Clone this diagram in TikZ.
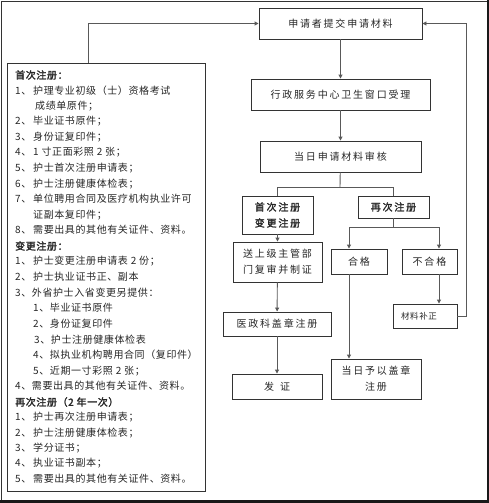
\documentclass[tikz,border=0pt]{standalone}
\usepackage{fontspec}
\usetikzlibrary{arrows.meta,calc}
\newfontfamily\cjkl[LetterSpace=6,AutoFakeBold=2]{Noto Sans CJK SC}
\newfontfamily\cjkr[LetterSpace=18,AutoFakeBold=2]{Noto Sans CJK SC}
\begin{document}
\begin{tikzpicture}[x=1pt,y=-1pt,
  box/.style={draw=black!80,line width=0.9pt,inner sep=0pt,align=center,font=\fontsize{10}{16}\cjkr,text=black!85},
  ltxt/.style={anchor=west,inner sep=0pt,font=\fontsize{10}{12}\cjkl,text=black!85},
  conn/.style={draw=black!65,line width=0.9pt},
  arr/.style={conn,-{Triangle[length=4pt,width=4pt]}}]
\useasboundingbox (0,0) rectangle (489,503);
% outer frame
\draw[black!80,line width=0.8pt] (1,1) -- (487,1);
\draw[black!80,line width=0.8pt] (1,1) -- (1,500);
\fill[black!90] (0,500) rectangle (489,503);
\fill[black!90] (487,0) rectangle (489,503);

% left box
\node[draw=black!80,line width=0.9pt,minimum width=198,minimum height=428,inner sep=0pt] (lbox) at (106,277) {};
\foreach \t/\y [count=\i] in {
 {\textbf{首次注册：}}/75,
 {1、}/91, {}/106, {2、}/121, {3、}/137, {4、}/152, {5、}/168, {6、}/184, {7、}/199, {}/215, {8、}/230,
 {\textbf{变更注册：}}/246,
 {1、}/261, {2、}/277, {3、外省护士入省变更另提供：}/293,
 {}/308, {}/324, {}/340, {}/355, {}/371,
 {4、需要出具的其他有关证件、资料。}/386,
 {\textbf{再次注册（2 年一次）}}/402,
 {1、}/417, {2、}/433, {3、}/448, {4、}/463, {5、}/479}
 {\node[ltxt] (n\i) at (15,\y) {\t};}
\node[ltxt] (t2) at (33,91) {护理专业初级（士）资格考试};
\node[ltxt] (t3) at (35,106) {成绩单原件；};
\node[ltxt] (t4) at (33,121) {毕业证书原件；};
\node[ltxt] (t5) at (33,137) {身份证复印件；};
\node[ltxt] (t6) at (33,152) {1 寸正面彩照 2 张；};
\node[ltxt] (t7) at (33,168) {护士首次注册申请表；};
\node[ltxt] (t8) at (33,184) {护士注册健康体检表；};
\node[ltxt] (t9) at (33,199) {单位聘用合同及医疗机构执业许可};
\node[ltxt] (t10) at (33,215) {证副本复印件；};
\node[ltxt] (t11) at (33,230) {需要出具的其他有关证件、资料。};
\node[ltxt] (t13) at (33,261) {护士变更注册申请表 2 份；};
\node[ltxt] (t14) at (33,277) {护士执业证书正、副本};
\node[ltxt] (t16) at (33,308) {1、毕业证书原件};
\node[ltxt] (t17) at (33,324) {2、身份证复印件};
\node[ltxt] (t18) at (34,340) {3、护士注册健康体检表};
\node[ltxt] (t19) at (33,355) {4、拟执业机构聘用合同（复印件）};
\node[ltxt] (t20) at (33,371) {5、近期一寸彩照 2 张；};
\node[ltxt] (t23) at (33,417) {护士再次注册申请表；};
\node[ltxt] (t24) at (33,433) {护士注册健康体检表；};
\node[ltxt] (t25) at (33,448) {学分证书；};
\node[ltxt] (t26) at (33,463) {执业证书副本；};
\node[ltxt] (t27) at (33,479) {需要出具的其他有关证件、资料。};

% right flow
\node[box,minimum width=163,minimum height=31] (b1) at (340.5,23.5) {申请者提交申请材料};
\node[box,minimum width=179,minimum height=31] (b2) at (340.5,94.5) {行政服务中心卫生窗口受理};
\node[box,minimum width=161,minimum height=31] (b3) at (340.5,156.5) {当日申请材料审核};
\node[box,minimum width=71,minimum height=38,font=\fontsize{10}{16}\cjkr\bfseries] (b4) at (277.5,215) {首次注册\\变更注册};
\node[box,minimum width=71,minimum height=22,font=\fontsize{10}{16}\cjkr\bfseries] (b5) at (393.5,207) {再次注册};
\node[box,minimum width=89,minimum height=40] (b6) at (277.5,262) {送上级主管部\\门复审并制证};
\node[box,minimum width=108,minimum height=24] (b7) at (277,324) {医政科盖章注册};
\node[box,minimum width=90,minimum height=25] (b8) at (277,386.5) {发\hspace{6pt}证};
\node[box,minimum width=56,minimum height=25] (hg) at (359,261.5) {合格};
\node[box,minimum width=55,minimum height=25] (bhg) at (429.5,261.5) {不合格};
\node[box,minimum width=64,minimum height=24,font=\fontsize{8.5}{12}\cjkl] (clbz) at (425,316) {\hspace*{-12pt}材料补正};
\node[box,minimum width=90,minimum height=40] (gz) at (376,379) {当日予以盖章\\注册};

\coordinate (s1) at (340,187);
\coordinate (s2) at (393.5,227);
\coordinate (xl) at (349,0);
\coordinate (xr) at (439,0);
\coordinate (rr) at (466,0);
\coordinate (lx) at (88,0);

\draw[arr] (b1) -- (b2);
\draw[arr] (b2) -- (b3);
\draw[conn] (b3) -- (s1);
\draw[conn] (s1) -| (b4);
\draw[conn] (s1) -| (b5);
\draw[arr] (b4) -- (b6);
\draw[arr] (b6) -- (b7);
\draw[arr] (b7) -- (b8);
\draw[conn] (b5) -- (s2);
\draw[conn] (s2 -| xl) -- (s2 -| xr);
\draw[arr] (s2 -| xl) -- (xl |- hg.north);
\draw[arr] (s2 -| xr) -- (xr |- bhg.north);
\draw[arr] (xr |- bhg.south) -- (xr |- clbz.north);
\draw[arr] (xl |- hg.south) -- (xl |- gz.north);
\draw[arr] (clbz.east) -- (clbz.east -| rr) |- (b1.east);
\draw[arr] (lx |- lbox.north) |- (b1.west);
\end{tikzpicture}
\end{document}
